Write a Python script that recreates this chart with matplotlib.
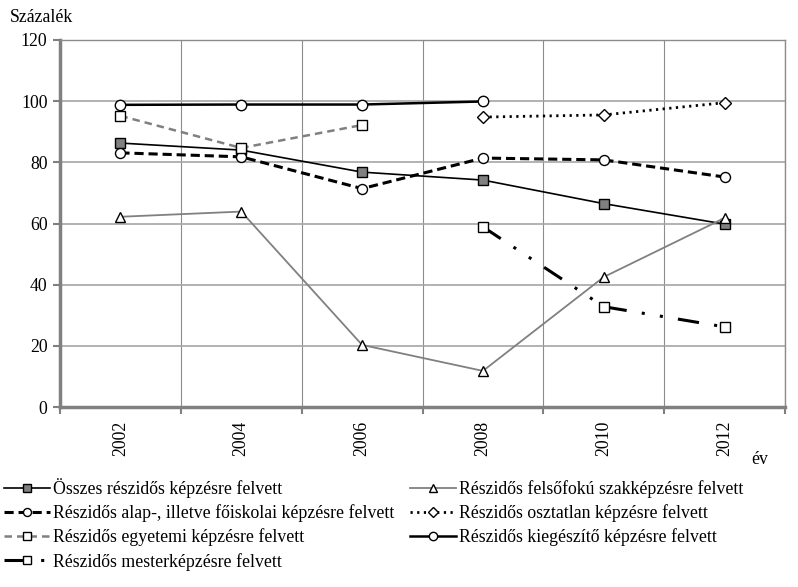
import matplotlib.pyplot as plt
import numpy as np

plt.rcParams['font.family'] = ['Liberation Serif', 'DejaVu Serif']

# --- DATA ---
years = ["2002", "2004", "2006", "2008", "2010", "2012"]
osszes = [86.3, 84.0, 76.8, 74.2, 66.5, 59.8]
felsofoku = [62.2, 63.9, 20.3, 11.8, 42.5, 61.8]
alap = [83.1, 81.8, 71.4, 81.4, 80.8, 75.2]
osztatlan = [None, None, None, 94.8, 95.5, 99.5]
egyetemi = [95.2, 84.7, 92.2, None, None, None]
kiegeszito = [98.8, 98.9, 98.9, 99.9, None, None]
mester = [None, None, None, 58.9, 32.8, 26.2]

labels = ["Összes részidős képzésre felvett",
          "Részidős felsőfokú szakképzésre felvett",
          "Részidős alap-, illetve főiskolai képzésre felvett",
          "Részidős osztatlan képzésre felvett",
          "Részidős egyetemi képzésre felvett",
          "Részidős kiegészítő képzésre felvett",
          "Részidős mesterképzésre felvett"]
# --- END DATA ---

def arr(v):
    return np.array([np.nan if a is None else a for a in v], dtype=float)

x = np.arange(len(years))
fs = 12.8

fig = plt.figure(figsize=(7.98, 5.87), dpi=100)
ax = fig.add_axes([60/798, 1-407/587, 725/798, 367/587])

grey = "#808080"
mk = dict(markeredgecolor="black", markeredgewidth=1.0)

l_osszes, = ax.plot(x, arr(osszes), color="black", lw=1.2, marker="s", ms=6.5,
                    markerfacecolor=grey, **mk)
l_felso, = ax.plot(x, arr(felsofoku), color=grey, lw=1.3, marker="^", ms=7,
                   markerfacecolor="white", **mk)
l_alap, = ax.plot(x, arr(alap), color="black", lw=2.2, dashes=(3, 1.6), marker="o", ms=7.2,
                  markerfacecolor="white", **mk)
l_oszt, = ax.plot(x, arr(osztatlan), color="black", lw=2.0, dashes=(0.8, 1.6), marker="D", ms=6,
                  markerfacecolor="white", **mk)
l_egy, = ax.plot(x, arr(egyetemi), color=grey, lw=1.8, dashes=(3, 2), marker="s", ms=7,
                 markerfacecolor="white", **mk)
l_kieg, = ax.plot(x, arr(kiegeszito), color="black", lw=1.8, marker="o", ms=7.5,
                  markerfacecolor="white", **mk)
l_mest, = ax.plot(x, arr(mester), color="black", lw=2.2, dashes=(7, 5, 1, 5, 1, 5), marker="s", ms=7,
                  markerfacecolor="white", **mk)

ax.set_xlim(-0.5, len(years) - 0.5)
ax.set_ylim(0, 120)
ax.set_yticks(np.arange(0, 121, 20))
ax.set_xticks(x)
ax.set_xticklabels(years, rotation=90, fontsize=fs)
ax.set_xticks(np.arange(-0.5, len(years), 1), minor=True)
ax.tick_params(axis="x", which="major", length=0, pad=10)
ax.tick_params(axis="x", which="minor", length=5, width=1.5, color=grey, direction="out")
ax.tick_params(axis="y", length=5, width=1.5, color=grey, labelsize=fs, pad=4)

ax.grid(axis="y", color="#a6a6a6", lw=1.2)
ax.grid(axis="x", which="minor", color="#8c8c8c", lw=0.8)
ax.set_axisbelow(True)

for s in ["left", "bottom"]:
    ax.spines[s].set_color(grey)
    ax.spines[s].set_linewidth(2.5)
for s in ["top", "right"]:
    ax.spines[s].set_color("#8c8c8c")
    ax.spines[s].set_linewidth(1.0)

fig.text(10/798, 1-18/587, "Százalék", fontsize=fs, va="center", ha="left")
fig.text(760/798, 1-460/587, "év", fontsize=fs, va="center", ha="center")

handles = [l_osszes, l_alap, l_egy, l_mest, l_felso, l_oszt, l_kieg]
hlabels = [labels[0], labels[2], labels[4], labels[6], labels[1], labels[3], labels[5]]
fig.legend(handles, hlabels, ncol=2, loc="upper left", bbox_to_anchor=(4/798, 1-478/587),
           frameon=False, fontsize=fs, handlelength=2.6, handletextpad=0.15,
           columnspacing=0.9, labelspacing=0.36, borderaxespad=0, borderpad=0,
           markerscale=0.8)

plt.savefig("out.png", dpi=100)
